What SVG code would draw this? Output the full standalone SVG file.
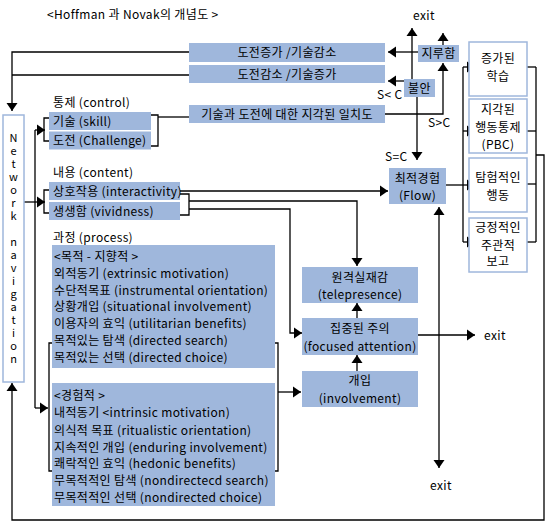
<svg xmlns="http://www.w3.org/2000/svg" width="549" height="524" viewBox="0 0 549 524">
<defs>
<marker id="ah" markerUnits="userSpaceOnUse" markerWidth="9" markerHeight="12" refX="8" refY="5.5" orient="auto" overflow="visible">
<path d="M0,0 L8,5.5 L0,11 z" fill="#000"/>
</marker>
</defs>
<style>
text{font-family:"Noto Sans CJK KR","Noto Sans",sans-serif;font-size:12px;fill:#000;letter-spacing:0.35px}
.c{text-anchor:middle}
.v{font-size:11px;letter-spacing:2px;writing-mode:vertical-rl;text-orientation:upright}
.b{fill:#9fb7dc}
.o{fill:#fff;stroke:#9fb7dc;stroke-width:1.5}
.l{fill:none;stroke:#000;stroke-width:1.3}
.a{fill:none;stroke:#000;stroke-width:1.3;marker-end:url(#ah)}
</style>
<rect width="549" height="524" fill="#fff"/>
<text x="47" y="19">&lt;Hoffman 과 Novak의 개념도 &gt;</text>

<g id="connectors">
<polyline class="a" points="189,52 12,52 12,111"/>
<polyline class="l" points="189,75 12,75"/>
<polyline class="a" points="24,202 45,202"/>
<polyline class="l" points="35,130 35,408"/>
<polyline class="a" points="35,130 45,130"/>
<polyline class="a" points="35,408 48,408"/>
<polyline class="l" points="49,118 44,118 44,141 49,141"/>
<polyline class="l" points="49,190 44,190 44,213 49,213"/>
<polyline class="l" points="151,115 158,115 158,146 151,146"/>
<polyline class="l" points="158,117 189,117"/>
<polyline class="l" points="180,194 189,194 189,215 180,215"/>
<polyline class="a" points="180,191 388,191"/>
<polyline class="a" points="189,201 357,201 357,266"/>
<polyline class="a" points="189,209 290,209 290,333 302,333"/>
<polyline class="l" points="52,343 49,343 49,471 52,471"/>
<polyline class="l" points="275,343 278,343 278,471 275,471"/>
<polyline class="a" points="278,392 301,392"/>
<polyline class="a" points="357,371 357,355"/>
<polyline class="a" points="357,318 357,303"/>
<polyline class="a" points="418,335 475,335"/>
<polyline class="a" points="412,79 412,28"/>
<polyline class="a" points="443,45 443,33"/>
<polyline class="a" points="385,114 443,114 443,63"/>
<polyline class="a" points="418,52 388,52"/>
<polyline class="a" points="404,81 388,81"/>
<polyline class="a" points="417,97 417,160"/>
<polyline class="a" points="439,300 439,207"/>
<polyline class="a" points="439,300 439,468"/>
<polyline class="a" points="446,185 475,185"/>
<polyline class="l" points="463,67 463,242"/>
<polyline class="a" points="463,67 475,67"/>
<polyline class="a" points="463,131 475,131"/>
<polyline class="a" points="463,242 475,242"/>
<polyline class="l" points="527,67 536,67"/>
<polyline class="l" points="527,131 536,131"/>
<polyline class="l" points="527,184 536,184"/>
<polyline class="l" points="527,242 536,242"/>
<polyline class="l" points="536,67 536,242"/>
<polyline class="a" points="536,155 544,155 544,520 12,520 12,383"/>
</g>

<g id="challenge-up">
<rect class="b" x="189" y="43" width="196" height="19"/>
<text class="c" x="287" y="57">도전증가 /기술감소</text>
</g>
<g id="challenge-down">
<rect class="b" x="189" y="65" width="196" height="18"/>
<text class="c" x="287" y="79">도전감소 /기술증가</text>
</g>
<g id="boredom">
<rect class="b" x="418" y="45" width="41" height="17"/>
<text class="c" x="438.5" y="58">지루함</text>
</g>
<g id="anxiety">
<rect class="b" x="404" y="79" width="31" height="18"/>
<text class="c" x="419.5" y="93">불안</text>
</g>
<g id="congruence">
<rect class="b" x="189" y="105" width="196" height="18"/>
<text class="c" x="287" y="119">기술과 도전에 대한 지각된 일치도</text>
</g>
<g id="labels">
<text x="413" y="20">exit</text>
<text x="377" y="99">S&lt; C</text>
<text x="428" y="127">S&gt;C</text>
<text x="385" y="161">S=C</text>
<text x="484" y="340">exit</text>
<text x="430" y="490">exit</text>
</g>

<g id="network-navigation">
<rect class="o" x="3" y="115" width="21" height="267"/>
<text class="v" x="13.5" y="132">Network navigation</text>
</g>

<g id="control">
<text x="53" y="107">통제 (control)</text>
<rect class="b" x="49" y="112" width="102" height="18"/>
<text x="53" y="126">기술 (skill)</text>
<rect class="b" x="49" y="131.5" width="102" height="18"/>
<text x="53" y="145">도전 (Challenge)</text>
</g>

<g id="content">
<text x="53" y="177">내용 (content)</text>
<rect class="b" x="49" y="182" width="131" height="18"/>
<text x="53" y="196">상호작용 (interactivity)</text>
<rect class="b" x="49" y="202" width="131" height="18"/>
<text x="53" y="216">생생함 (vividness)</text>
</g>

<g id="process">
<text x="53" y="242">과정 (process)</text>
</g>
<g id="goal-directed">
<rect class="b" x="52" y="245" width="223" height="123"/>
<text x="54" y="261">&lt;목적 - 지향적 &gt;</text>
<text x="54" y="278">외적동기 (extrinsic motivation)</text>
<text x="54" y="294.5">수단적목표 (instrumental orientation)</text>
<text x="54" y="311">상황개입 (situational involvement)</text>
<text x="54" y="327.5">이용자의 효익 (utilitarian benefits)</text>
<text x="54" y="345">목적있는 탐색 (directed search)</text>
<text x="54" y="362">목적있는 선택 (directed choice)</text>
</g>
<g id="experiential">
<rect class="b" x="52" y="383" width="223" height="123"/>
<text x="54" y="400">&lt;경험적 &gt;</text>
<text x="54" y="417">내적동기 &lt;intrinsic motivation)</text>
<text x="54" y="435">의식적 목표 (ritualistic orientation)</text>
<text x="54" y="452">지속적인 개입 (enduring involvement)</text>
<text x="54" y="468">쾌락적인 효익 (hedonic benefits)</text>
<text x="54" y="485">무목적적인 탐색 (nondirectecd search)</text>
<text x="54" y="502">무목적적인 선택 (nondirected choice)</text>
</g>

<g id="telepresence">
<rect class="b" x="302" y="267" width="116" height="36"/>
<text class="c" x="360" y="282">원격실재감</text>
<text class="c" x="360" y="299">(telepresence)</text>
</g>
<g id="focused-attention">
<rect class="b" x="302" y="318" width="116" height="37"/>
<text class="c" x="360" y="333">집중된 주의</text>
<text class="c" x="360" y="351">(focused attention)</text>
</g>
<g id="involvement">
<rect class="b" x="302" y="371" width="116" height="36"/>
<text class="c" x="360" y="385">개입</text>
<text class="c" x="360" y="403">(involvement)</text>
</g>

<g id="flow">
<rect class="b" x="389" y="168" width="57" height="36"/>
<text class="c" x="417.5" y="183">최적경험</text>
<text class="c" x="417.5" y="200">(Flow)</text>
</g>

<g id="learning">
<rect class="o" x="469" y="42" width="58" height="54"/>
<text class="c" x="498" y="63">증가된</text>
<text class="c" x="498" y="81">학습</text>
</g>
<g id="pbc">
<rect class="o" x="469" y="99" width="58" height="54"/>
<text class="c" x="498" y="114">지각된</text>
<text class="c" x="498" y="132">행동통제</text>
<text class="c" x="498" y="149">(PBC)</text>
</g>
<g id="exploratory">
<rect class="o" x="469" y="158" width="58" height="54"/>
<text class="c" x="498" y="182">탐험적인</text>
<text class="c" x="498" y="200">행동</text>
</g>
<g id="subjective">
<rect class="o" x="469" y="218" width="58" height="54"/>
<text class="c" x="498" y="232">긍정적인</text>
<text class="c" x="498" y="250">주관적</text>
<text class="c" x="498" y="266">보고</text>
</g>
</svg>
